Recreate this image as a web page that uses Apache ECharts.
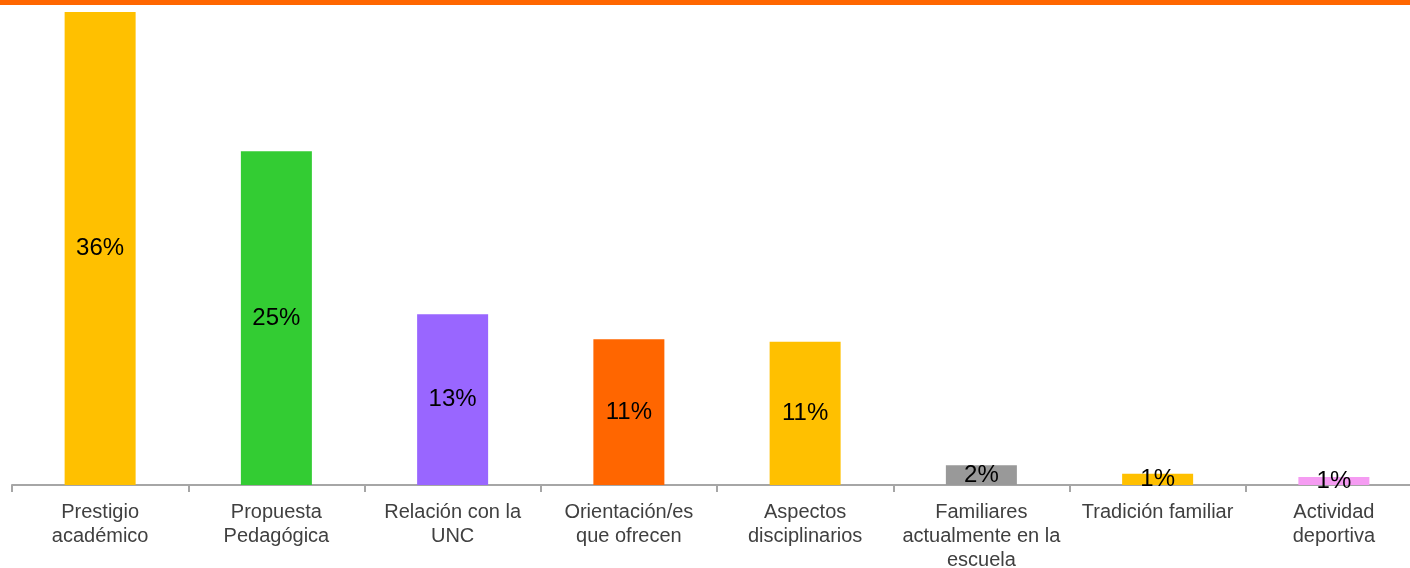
<!DOCTYPE html>
<html>
<head>
<meta charset="utf-8">
<script src="https://cdn.jsdelivr.net/npm/echarts@6/dist/echarts.min.js"></script>
<style>
  html, body { margin: 0; padding: 0; background: #fff; }
  #chart { width: 1410px; height: 568px; }
</style>
</head>
<body>
<div id="chart"></div>
<script>
const categories = [
  'Prestigio\nacadémico',
  'Propuesta\nPedagógica',
  'Relación con la\nUNC',
  'Orientación/es\nque ofrecen',
  'Aspectos\ndisciplinarios',
  'Familiares\nactualmente en la\nescuela',
  'Tradición familiar',
  'Actividad\ndeportiva'
];
const values = [36, 25.4, 13, 11.1, 10.9, 1.5, 0.85, 0.6];
const labels = ['36%', '25%', '13%', '11%', '11%', '2%', '1%', '1%'];
const colors = ['#FFC000', '#33CC33', '#9966FF', '#FF6600', '#FFC000', '#999999', '#FFC000', '#F59CF2'];

const chart = echarts.init(document.getElementById('chart'));

const option = {
  animation: false,
  graphic: [
    { type: 'rect', left: 0, top: 0, shape: { width: 1410, height: 5 }, style: { fill: '#FF6600' } }
  ],
  grid: { left: 12, top: 12, width: 1410, height: 473, outerBoundsMode: 'none', containLabel: false },
  xAxis: {
    type: 'category',
    data: categories,
    axisLine: { lineStyle: { color: '#A6A6A6', width: 2 } },
    axisTick: { show: true, length: 7, lineStyle: { color: '#A6A6A6', width: 2 } },
    axisLabel: {
      interval: 0,
      color: '#404040',
      fontFamily: 'Liberation Sans, Arial, sans-serif',
      fontSize: 20,
      lineHeight: 24,
      margin: 15
    }
  },
  yAxis: {
    type: 'value',
    min: 0,
    max: 36,
    show: false
  },
  series: [{
    type: 'bar',
    barWidth: 71,
    data: values.map((v, i) => ({ value: v, itemStyle: { color: colors[i] } })),
    label: {
      show: true,
      position: 'inside',
      color: '#000',
      fontFamily: 'Liberation Sans, Arial, sans-serif',
      fontSize: 24,
      formatter: p => labels[p.dataIndex]
    }
  }]
};

chart.setOption(option);
</script>
</body>
</html>
